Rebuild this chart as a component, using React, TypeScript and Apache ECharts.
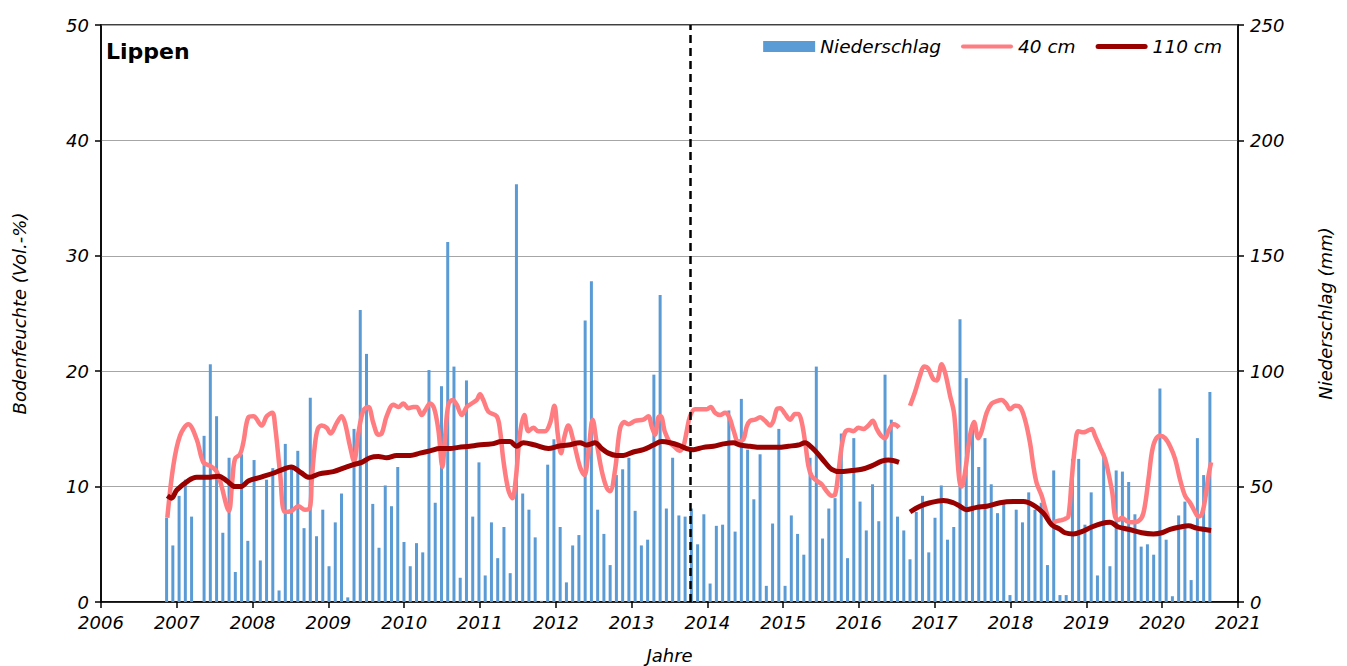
import React, { useEffect, useRef } from "react";
import * as echarts from "echarts";

const FONT = "'DejaVu Sans', sans-serif";

// Category (month) axis for the precipitation bars: Jan 2006 .. Feb 2021
const CAT_FIRST_YEAR = 2006;
const CAT_COUNT = 182;
const PRECIP_FIRST = { year: 2006, month: 11 };

// Monthly precipitation (mm)
const precip2006 = [36.5, 24.5]; // Nov-Dec
const precip2007 = [46, 53, 37, 0, 72, 103, 80.5, 30, 62.5, 13, 64, 26.5];
const precip2008 = [61.5, 18, 53, 58, 5, 68.5, 59, 65.5, 32, 88.5, 28.5, 40];
const precip2009 = [15.5, 34.5, 47, 2, 75, 126.5, 107.5, 42.5, 23.5, 50.5, 41.5, 58.5];
const precip2010 = [26, 15.5, 25.5, 21.5, 100.5, 43, 93.5, 156, 102, 10.5, 96, 37];
const precip2011 = [60.5, 11.5, 34.5, 19, 32.5, 12.5, 181, 47, 40, 28, 0.5, 59.5];
const precip2012 = [70.5, 32.5, 8.5, 24.5, 29, 122, 139, 40, 29.5, 16, 55, 57.5];
const precip2013 = [62.5, 39.5, 24.5, 27, 98.5, 133, 40.5, 62.5, 37.5, 37, 40.5, 25];
const precip2014 = [38, 8, 33, 33.5, 83, 30.5, 88, 66, 44.5, 64, 7, 34];
const precip2015 = [75, 7, 37.5, 29.5, 20.5, 62.5, 102, 27.5, 40.5, 45, 73, 19];
const precip2016 = [71, 43.5, 31, 51, 35, 98.5, 79, 37, 31, 18.5, 39, 46];
const precip2017 = [21.5, 36.5, 50.5, 27, 32.5, 122.5, 97, 75, 58.5, 71, 51, 38.5];
const precip2018 = [42.5, 3, 40, 34.5, 47.5, 40, 43, 16, 57, 3, 3, 62];
const precip2019 = [62, 33.5, 47.5, 11.5, 64.5, 15.5, 57, 56.5, 52, 38, 24, 25];
const precip2020 = [20.5, 92.5, 27, 2.5, 37.5, 43.5, 9.5, 71, 55, 91]; // Jan-Oct

// Soil moisture 40 cm (Vol.-%), [year, value]
const soil40a: [number, number][] = [
  [2006.875, 7.3], [2006.954, 11.8], [2007.042, 14.4], [2007.152, 15.4], [2007.262, 14.1],
  [2007.35, 12.1], [2007.438, 11.8], [2007.526, 11.3], [2007.592, 10.0], [2007.658, 8.3],
  [2007.689, 7.9], [2007.733, 10.6], [2007.768, 12.4], [2007.834, 12.8], [2007.877, 13.8],
  [2007.944, 16.0], [2008.01, 16.1], [2008.12, 15.3], [2008.186, 16.1], [2008.26, 16.4],
  [2008.296, 15.3], [2008.362, 11.2], [2008.427, 7.8], [2008.515, 7.9], [2008.603, 8.3],
  [2008.691, 8.0], [2008.757, 8.2], [2008.78, 10.5], [2008.82, 13.5], [2008.86, 15.0],
  [2008.911, 15.3], [2008.977, 15.1], [2009.03, 14.6], [2009.109, 15.5], [2009.175, 16.1],
  [2009.219, 15.5], [2009.285, 13.5], [2009.338, 12.2], [2009.395, 14.6], [2009.461, 16.6],
  [2009.527, 16.9], [2009.593, 15.5], [2009.659, 14.5], [2009.703, 14.6], [2009.769, 16.1],
  [2009.857, 17.1], [2009.923, 16.9], [2009.989, 17.2], [2010.055, 16.8], [2010.121, 16.9],
  [2010.165, 16.9], [2010.231, 16.2], [2010.275, 16.6], [2010.341, 17.2], [2010.394, 16.8],
  [2010.451, 14.9], [2010.504, 11.7], [2010.539, 14.3], [2010.583, 17.1], [2010.64, 17.5],
  [2010.693, 17.1], [2010.759, 16.2], [2010.825, 16.9], [2010.89, 17.2], [2010.956, 17.5],
  [2011.0, 18.0], [2011.044, 17.5], [2011.11, 16.5], [2011.22, 16.1], [2011.264, 14.9],
  [2011.308, 12.3], [2011.374, 9.7], [2011.427, 9.0], [2011.471, 10.6], [2011.528, 14.6],
  [2011.585, 16.2], [2011.638, 14.8], [2011.704, 15.1], [2011.77, 14.8], [2011.858, 14.8],
  [2011.924, 15.5], [2011.981, 17.0], [2012.025, 14.6], [2012.069, 12.9], [2012.113, 14.3],
  [2012.165, 15.3], [2012.231, 14.0], [2012.319, 11.7], [2012.377, 11.0], [2012.429, 12.9],
  [2012.487, 15.8], [2012.539, 13.8], [2012.605, 11.4], [2012.671, 9.9], [2012.715, 9.6],
  [2012.781, 11.4], [2012.847, 15.0], [2012.905, 15.6], [2012.957, 15.4], [2013.045, 15.7],
  [2013.155, 15.8], [2013.221, 16.1], [2013.265, 15.2], [2013.309, 14.5], [2013.353, 16.0],
  [2013.384, 16.1], [2013.441, 14.7], [2013.507, 13.8], [2013.573, 13.4], [2013.63, 13.1],
  [2013.683, 13.5], [2013.727, 14.8], [2013.771, 16.1], [2013.837, 16.7], [2013.925, 16.7],
  [2013.991, 16.7], [2014.044, 16.9], [2014.101, 16.4], [2014.167, 16.2], [2014.233, 16.4],
  [2014.29, 16.0], [2014.343, 14.9], [2014.409, 13.9], [2014.475, 14.1], [2014.519, 15.2],
  [2014.563, 15.7], [2014.629, 15.8], [2014.695, 16.0], [2014.761, 15.7], [2014.827, 15.3],
  [2014.871, 15.7], [2014.915, 16.7], [2014.959, 16.8], [2015.024, 16.3], [2015.09, 15.8],
  [2015.156, 16.3], [2015.2, 16.3], [2015.244, 15.6], [2015.297, 13.5], [2015.332, 11.8],
  [2015.376, 10.9], [2015.442, 10.5], [2015.508, 10.2], [2015.574, 9.6], [2015.64, 9.2],
  [2015.684, 9.3], [2015.728, 11.2], [2015.772, 13.5], [2015.816, 14.7], [2015.868, 14.9],
  [2015.926, 14.8], [2015.992, 15.1], [2016.058, 15.0], [2016.124, 15.3], [2016.181, 15.7],
  [2016.234, 15.0], [2016.291, 14.4], [2016.344, 14.2], [2016.388, 14.8], [2016.454, 15.4],
  [2016.497, 15.3], [2016.528, 15.1],
];
const soil40b: [number, number][] = [
  [2016.673, 17.0], [2016.739, 18.2], [2016.805, 19.6], [2016.858, 20.4], [2016.915, 20.2],
  [2016.981, 19.3], [2017.025, 19.2], [2017.091, 20.6], [2017.135, 19.9], [2017.201, 17.9],
  [2017.253, 16.4], [2017.288, 13.5], [2017.323, 10.6], [2017.354, 10.0], [2017.398, 11.2],
  [2017.464, 14.4], [2017.517, 15.6], [2017.574, 14.2], [2017.618, 14.8], [2017.684, 16.4],
  [2017.75, 17.2], [2017.816, 17.4], [2017.882, 17.5], [2017.939, 17.2], [2017.992, 16.7],
  [2018.058, 17.0], [2018.124, 16.9], [2018.19, 15.8], [2018.256, 13.8], [2018.3, 11.8],
  [2018.344, 10.3], [2018.41, 9.2], [2018.476, 7.7], [2018.542, 6.8], [2018.608, 7.0],
  [2018.674, 7.1], [2018.718, 7.2], [2018.762, 7.4], [2018.806, 10.6], [2018.85, 13.5],
  [2018.894, 14.8], [2018.96, 14.7], [2019.004, 14.8], [2019.07, 15.0], [2019.114, 14.4],
  [2019.18, 13.4], [2019.246, 12.4], [2019.29, 11.2], [2019.343, 9.4], [2019.378, 7.4],
  [2019.422, 7.1], [2019.466, 7.3], [2019.532, 7.0], [2019.598, 6.9], [2019.686, 7.0],
  [2019.752, 7.7], [2019.818, 10.6], [2019.862, 12.9], [2019.906, 14.0], [2019.972, 14.4],
  [2020.038, 14.2], [2020.104, 13.5], [2020.17, 12.4], [2020.236, 10.6], [2020.302, 9.2],
  [2020.368, 8.6], [2020.434, 7.8], [2020.478, 7.4], [2020.522, 7.6], [2020.566, 8.9],
  [2020.61, 10.9], [2020.645, 12.1],
];

// Soil moisture 110 cm (Vol.-%), [year, value]
const soil110a: [number, number][] = [
  [2006.875, 9.2], [2006.93, 9.0], [2007.0, 9.7], [2007.15, 10.5], [2007.26, 10.8],
  [2007.4, 10.8], [2007.55, 10.9], [2007.66, 10.5], [2007.77, 10.0], [2007.84, 10.0],
  [2007.95, 10.5], [2008.1, 10.8], [2008.29, 11.2], [2008.4, 11.5], [2008.51, 11.7],
  [2008.64, 11.2], [2008.75, 10.8], [2008.88, 11.1], [2009.065, 11.3], [2009.197, 11.6],
  [2009.329, 11.9], [2009.439, 12.1], [2009.549, 12.5], [2009.659, 12.6], [2009.769, 12.5],
  [2009.901, 12.7], [2010.077, 12.7], [2010.209, 12.9], [2010.341, 13.1], [2010.473, 13.3],
  [2010.605, 13.3], [2010.715, 13.4], [2010.869, 13.5], [2010.978, 13.6], [2011.154, 13.7],
  [2011.286, 13.9], [2011.396, 13.9], [2011.484, 13.5], [2011.572, 13.8], [2011.726, 13.6],
  [2011.902, 13.3], [2012.033, 13.5], [2012.165, 13.6], [2012.319, 13.8], [2012.407, 13.6],
  [2012.517, 13.8], [2012.605, 13.3], [2012.693, 12.9], [2012.803, 12.7], [2012.891, 12.7],
  [2013.023, 13.0], [2013.155, 13.2], [2013.287, 13.6], [2013.397, 13.9], [2013.507, 13.8],
  [2013.617, 13.6], [2013.727, 13.3], [2013.815, 13.2], [2013.947, 13.4], [2014.079, 13.5],
  [2014.211, 13.7], [2014.343, 13.8], [2014.431, 13.6], [2014.563, 13.5], [2014.695, 13.4],
  [2014.827, 13.4], [2014.937, 13.4], [2015.068, 13.5], [2015.2, 13.6], [2015.288, 13.8],
  [2015.376, 13.4], [2015.464, 12.8], [2015.552, 12.1], [2015.64, 11.5], [2015.75, 11.3],
  [2015.904, 11.4], [2016.036, 11.5], [2016.168, 11.8], [2016.3, 12.2], [2016.388, 12.3],
  [2016.528, 12.1],
];
const soil110b: [number, number][] = [
  [2016.673, 7.8], [2016.805, 8.3], [2016.937, 8.6], [2017.113, 8.8], [2017.245, 8.6],
  [2017.332, 8.3], [2017.42, 8.0], [2017.552, 8.2], [2017.684, 8.3], [2017.86, 8.6],
  [2018.036, 8.7], [2018.168, 8.7], [2018.3, 8.4], [2018.432, 7.7], [2018.542, 6.7],
  [2018.652, 6.3], [2018.718, 6.0], [2018.828, 5.9], [2018.938, 6.1], [2019.07, 6.5],
  [2019.202, 6.8], [2019.312, 6.9], [2019.422, 6.5], [2019.554, 6.3], [2019.73, 6.0],
  [2019.884, 5.9], [2019.994, 6.0], [2020.104, 6.3], [2020.236, 6.5], [2020.346, 6.6],
  [2020.456, 6.4], [2020.544, 6.3], [2020.645, 6.2],
];

const DIVIDER_YEAR = 2013.77;

const X_TICKS = { min: 2006, max: 2021, interval: 1 };
const Y_LEFT = { min: 0, max: 50, interval: 10 };
const Y_RIGHT = { min: 0, max: 250, interval: 50 };

function monthLabel(y: number, m: number) {
  return `${y}-${String(m).padStart(2, "0")}`;
}

function buildOption() {
  const monthLabels: string[] = [];
  for (let i = 0; i < CAT_COUNT; i++) {
    const y = CAT_FIRST_YEAR + Math.floor(i / 12);
    const m = (i % 12) + 1;
    monthLabels.push(monthLabel(y, m));
  }
  const precipAll = [
    ...precip2006, ...precip2007, ...precip2008, ...precip2009, ...precip2010,
    ...precip2011, ...precip2012, ...precip2013, ...precip2014, ...precip2015,
    ...precip2016, ...precip2017, ...precip2018, ...precip2019, ...precip2020,
  ];
  const startIdx = (PRECIP_FIRST.year - CAT_FIRST_YEAR) * 12 + (PRECIP_FIRST.month - 1);
  const barData = precipAll.map((v, k) => [monthLabels[startIdx + k], v]);

  const tickLabel = {
    fontFamily: FONT,
    fontStyle: "italic",
    fontSize: 18,
    color: "#000",
  };
  const nameStyle = {
    fontFamily: FONT,
    fontStyle: "italic",
    fontSize: 18,
    color: "#000",
  };
  const pink = "#FF7C80";
  const dark = "#990000";

  const lineCommon = {
    type: "line",
    xAxisIndex: 0,
    yAxisIndex: 0,
    smooth: 0.35,
    showSymbol: false,
    symbol: "none",
    connectNulls: false,
  };

  return {
    animation: false,
    backgroundColor: "#ffffff",
    textStyle: { fontFamily: FONT },
    title: {
      text: "Lippen",
      left: 106,
      top: 40,
      padding: 0,
      textStyle: { fontFamily: FONT, fontWeight: "bold", fontSize: 22, color: "#000" },
    },
    legend: {
      top: 37,
      right: 125,
      padding: 0,
      itemGap: 20,
      itemWidth: 52,
      itemHeight: 11,
      textStyle: { fontFamily: FONT, fontStyle: "italic", fontSize: 18.5, color: "#000" },
      data: [
        { name: "Niederschlag", icon: "rect" },
        { name: "40 cm", icon: "path://M2,0 L50,0 A2,2 0 0 1 50,4 L2,4 A2,2 0 0 1 2,0 Z" },
        { name: "110 cm", icon: "path://M2.5,0 L49.5,0 A2.5,2.5 0 0 1 49.5,5 L2.5,5 A2.5,2.5 0 0 1 2.5,0 Z" },
      ],
    },
    grid: {
      left: 101,
      right: 109,
      top: 25,
      bottom: 64,
      show: true,
      borderColor: "#000",
      borderWidth: 1.5,
      backgroundColor: "transparent",
      containLabel: false,
      outerBoundsMode: "none",
    },
    xAxis: [
      {
        type: "value",
        ...X_TICKS,
        name: "Jahre",
        nameLocation: "middle",
        nameGap: 44,
        nameTextStyle: nameStyle,
        axisLine: { show: true, onZero: false, lineStyle: { color: "#000", width: 1.5 } },
        axisTick: { show: true, length: 6, lineStyle: { color: "#000", width: 1.5 } },
        axisLabel: { ...tickLabel, margin: 11, formatter: (v: number) => String(v) },
        splitLine: { show: false },
      },
      {
        type: "category",
        data: monthLabels,
        show: false,
        boundaryGap: true,
      },
    ],
    yAxis: [
      {
        type: "value",
        position: "left",
        ...Y_LEFT,
        name: "Bodenfeuchte (Vol.-%)",
        nameLocation: "middle",
        nameGap: 73,
        nameRotate: 90,
        nameTextStyle: nameStyle,
        axisLine: { show: true, lineStyle: { color: "#000", width: 1.5 } },
        axisTick: { show: true, length: 6, lineStyle: { color: "#000", width: 1.5 } },
        axisLabel: { ...tickLabel, margin: 12 },
        splitLine: { show: true, lineStyle: { color: "#A6A6A6", width: 1 } },
      },
      {
        type: "value",
        position: "right",
        ...Y_RIGHT,
        name: "Niederschlag (mm)",
        nameLocation: "middle",
        nameGap: 78,
        nameRotate: 90,
        nameTextStyle: nameStyle,
        axisLine: { show: true, lineStyle: { color: "#000", width: 1.5 } },
        axisTick: { show: true, length: 6, lineStyle: { color: "#000", width: 1.5 } },
        axisLabel: { ...tickLabel, margin: 12 },
        splitLine: { show: false },
      },
    ],
    series: [
      {
        name: "Niederschlag",
        type: "bar",
        xAxisIndex: 1,
        yAxisIndex: 1,
        barWidth: 3,
        data: barData,
        itemStyle: { color: "#5B9BD5" },
      },
      {
        ...lineCommon,
        name: "40 cm",
        data: soil40a,
        lineStyle: { color: pink, width: 4.5 },
        itemStyle: { color: pink },
        markLine: {
          silent: true,
          symbol: "none",
          label: { show: false },
          lineStyle: { color: "#000", type: [8, 5], width: 2.5 },
          data: [{ xAxis: DIVIDER_YEAR }],
        },
      },
      {
        ...lineCommon,
        name: "40 cm",
        data: soil40b,
        lineStyle: { color: pink, width: 4.5 },
        itemStyle: { color: pink },
      },
      {
        ...lineCommon,
        name: "110 cm",
        data: soil110a,
        lineStyle: { color: dark, width: 5 },
        itemStyle: { color: dark },
      },
      {
        ...lineCommon,
        name: "110 cm",
        data: soil110b,
        lineStyle: { color: dark, width: 5 },
        itemStyle: { color: dark },
      },
    ],
  };
}

export default function App() {
  const ref = useRef<HTMLDivElement>(null);
  useEffect(() => {
    if (!ref.current) return;
    const chart = echarts.init(ref.current, null, { renderer: "svg" });
    chart.setOption(buildOption() as any);
    return () => chart.dispose();
  }, []);
  return (
    <div
      ref={ref}
      style={{ position: "absolute", left: 0, top: 0, width: 1347, height: 666, background: "#fff" }}
    />
  );
}
